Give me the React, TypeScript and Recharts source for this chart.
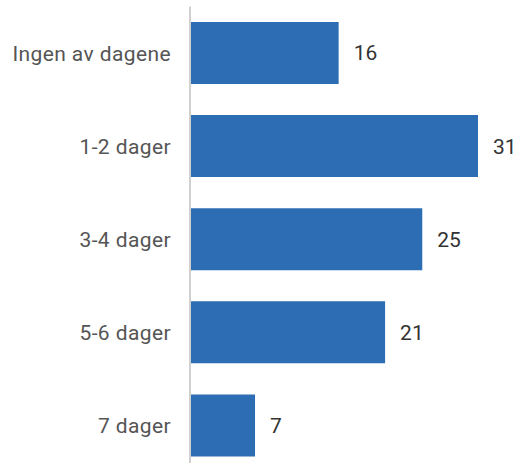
import { BarChart, Bar, XAxis, YAxis, LabelList } from "recharts";

const categories = ["Ingen av dagene", "1-2 dager", "3-4 dager", "5-6 dager", "7 dager"];
const values = [16, 31, 25, 21, 7];

const data = categories.map((name, i) => ({ name, value: values[i] }));

export default function App() {
	return (
		<div
			style={{
				position: "absolute",
				top: 0,
				left: 0,
				width: 527,
				height: 463,
				overflow: "hidden",
				background: "#fff",
			}}
		>
			<BarChart
				width={527}
				height={472}
				data={data}
				layout="vertical"
				barCategoryGap={15.5}
				margin={{ top: 6.5, right: 49, left: 0, bottom: 0 }}
			>
				<XAxis type="number" domain={[0, 31]} hide />
				<YAxis
					type="category"
					dataKey="name"
					width={190}
					tickLine={false}
					tickSize={0}
					tickMargin={19}
					axisLine={{ stroke: "#d0d0d0", strokeWidth: 2 }}
					tick={{ fill: "#555", fontSize: 21, fontFamily: "Roboto", letterSpacing: 0.4 }}
				/>
				<Bar dataKey="value" fill="#2c6db3" isAnimationActive={false}>
					<LabelList
						dataKey="value"
						position="right"
						offset={15}
						fill="#333"
						fontSize={21}
						fontFamily="Roboto"
					/>
				</Bar>
			</BarChart>
		</div>
	);
}
